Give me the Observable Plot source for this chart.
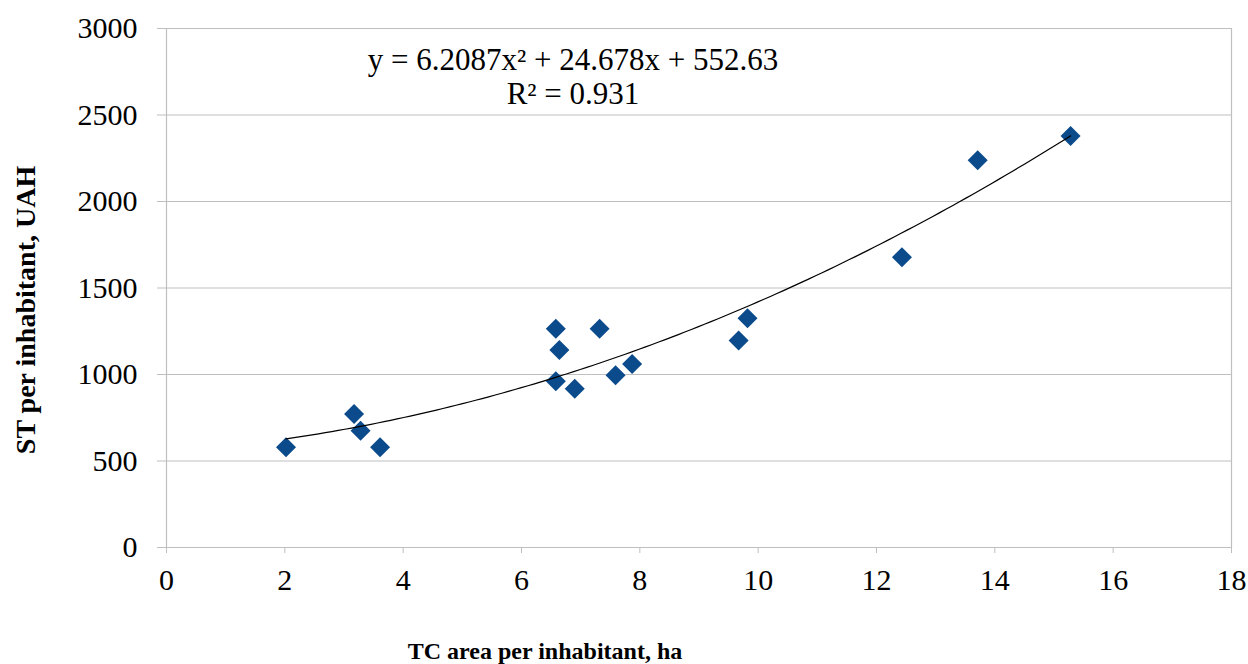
<!DOCTYPE html>
<html>
<head>
<meta charset="utf-8">
<script src="https://cdn.jsdelivr.net/npm/d3@7"></script>
<script src="https://cdn.jsdelivr.net/npm/@observablehq/plot@0.6"></script>
<style>
  html, body { margin: 0; padding: 0; background: #fff; }
  #chart svg { display: block; }
  #chart svg text { font-family: "Liberation Serif", "Times New Roman", serif !important; }
</style>
</head>
<body>
<div id="chart"></div>
<script>
// Data
const tcArea = [2.02, 3.17, 3.28, 3.61, 6.58, 6.64, 6.58, 6.90, 7.32, 7.59, 7.87, 9.67, 9.82, 12.43, 13.71, 15.28];
const stValue = [580, 772, 675, 580, 1264, 1142, 961, 917, 1264, 995, 1061, 1196, 1325, 1678, 2238, 2378];
// Trendline coefficients as printed on the chart: y = a x^2 + b x + c
const trendCoef = [6.2087, 24.678, 552.63];
const xTicks = [0, 2, 4, 6, 8, 10, 12, 14, 16, 18];
const yTicks = [0, 500, 1000, 1500, 2000, 2500, 3000];
const equationLines = ["y = 6.2087x² + 24.678x + 552.63", "R² = 0.931"];
const xTitle = "TC area per inhabitant, ha";
const yTitle = "ST per inhabitant, UAH";

const points = tcArea.map((x, i) => ({x, y: stValue[i]}));
const xMin = d3.min(tcArea), xMax = d3.max(tcArea);
const trend = d3.range(xMin, xMax + 1e-9, (xMax - xMin) / 120).map(x => ({
  x, y: trendCoef[0] * x * x + trendCoef[1] * x + trendCoef[2]
}));

const W = 1248, H = 664;
const gridColor = "#bfbfbf";
const serif = "'Liberation Serif', 'Times New Roman', serif";
const chart = Plot.plot({
  width: W,
  height: H,
  marginTop: 28,
  marginBottom: 117,
  marginLeft: 166,
  marginRight: 17,
  style: {fontFamily: serif, fontSize: "30px", color: "#000", background: "#fff"},
  x: {domain: [0, 18], label: null},
  y: {domain: [0, 3000], label: null},
  marks: [
    Plot.ruleY(yTicks.filter(d => d > 0), {stroke: gridColor, strokeWidth: 1.2}),
    Plot.ruleX([0, 18], {stroke: gridColor, strokeWidth: 1.2}),
    Plot.ruleY([0], {stroke: gridColor, strokeWidth: 1.2}),
    Plot.axisX({ticks: xTicks, tickFormat: d3.format("d"), tickSize: 6, tickPadding: 15, stroke: gridColor, fill: "#000", label: null, fontFamily: serif, fontSize: 30}),
    Plot.axisY({ticks: yTicks, tickFormat: d3.format("d"), tickSize: 9, tickPadding: 20, stroke: gridColor, fill: "#000", label: null, fontFamily: serif, fontSize: 30}),
    Plot.dot(points, {x: "x", y: "y", symbol: "diamond2", r: 9, fill: "#0b4a8b", stroke: "none"}),
    Plot.line(trend, {x: "x", y: "y", stroke: "#000", strokeWidth: 1.2, curve: "linear"})
  ]
});
document.getElementById("chart").appendChild(chart);

const svg = d3.select(chart);
svg.selectAll("text").style("font-family", serif).style("font-variant", "normal");

const eq = svg.append("g")
  .attr("font-family", serif)
  .attr("font-size", 31)
  .attr("text-anchor", "middle")
  .attr("fill", "#000");
eq.append("text").attr("x", 573).attr("y", 70).text(equationLines[0]);
eq.append("text").attr("x", 573).attr("y", 104).text(equationLines[1]);

svg.append("text")
  .attr("x", 545).attr("y", 659)
  .attr("text-anchor", "middle")
  .attr("font-family", serif)
  .attr("font-weight", "bold")
  .attr("font-size", 24)
  .attr("fill", "#000")
  .text(xTitle);

svg.append("text")
  .attr("transform", "translate(35,310) rotate(-90)")
  .attr("text-anchor", "middle")
  .attr("font-family", serif)
  .attr("font-weight", "bold")
  .attr("font-size", 28)
  .attr("fill", "#000")
  .text(yTitle);
</script>
</body>
</html>
